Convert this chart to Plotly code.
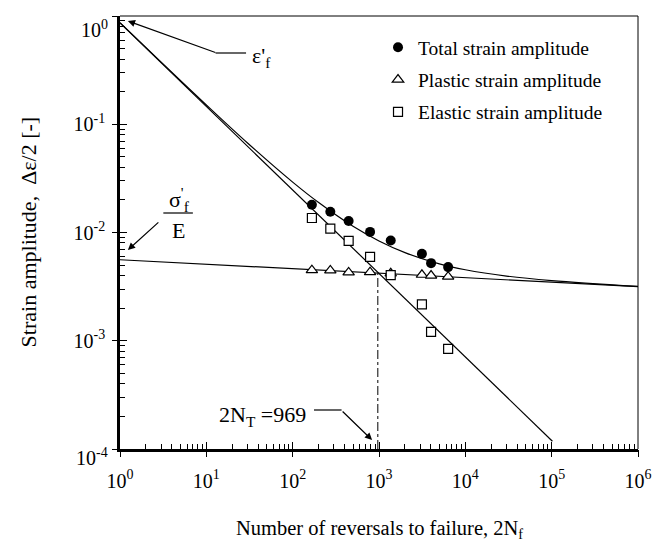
import plotly.graph_objects as go

# ---------------- data ----------------
reversals = [167, 273, 445, 788, 1367, 3141, 4010, 6320]
total_amp = [0.01806, 0.01556, 0.01279, 0.01013, 0.00842, 0.00635, 0.00521, 0.00479]
plastic_amp = [0.00449, 0.00446, 0.00428, 0.00430, 0.00420, 0.00407, 0.00400, 0.00391]
elastic_amp = [0.01362, 0.01086, 0.00837, 0.00596, 0.00404, 0.00217, 0.00121, 0.00084]

# fitted lines (end points)
steep_fit_x = [1, 1.02e5]
steep_fit_y = [0.863, 1.18e-4]
flat_fit_x = [1, 1e6]
flat_fit_y = [0.0056, 0.00316]
# total fit curve
total_fit_x = [1, 3, 10, 30, 100, 200, 500, 1000, 2000, 5000, 1e4, 3e4, 1e5, 1e6]
total_fit_y = [0.869, 0.3745, 0.1507, 0.0671, 0.0292, 0.0189, 0.0114, 0.00835,
               0.00651, 0.00513, 0.00453, 0.00396, 0.0036, 0.00318]

transition_x = [969, 969]
transition_y = [1e-4, 0.0042]

x_tickvals = [1, 10, 100, 1000, 1e4, 1e5, 1e6]
x_ticktext = ["10<sup>0</sup>", "10<sup>1</sup>", "10<sup>2</sup>", "10<sup>3</sup>",
              "10<sup>4</sup>", "10<sup>5</sup>", "10<sup>6</sup>"]
y_tickvals = [1e-4, 1e-3, 1e-2, 1e-1, 1]
y_ticktext = ["10<sup>-4</sup>", "10<sup>-3</sup>", "10<sup>-2</sup>", "10<sup>-1</sup>", "10<sup>0</sup>"]

# ---------------- layout helpers ----------------
W, H = 664, 547
L, R, T, B = 120, 646, 16, 449   # plot area in pixels
FONT = "Liberation Serif"


def px(xp, yp):
    return (xp - L) / (R - L), (B - yp) / (B - T)


x_minor = [m * 10 ** d for d in range(0, 6) for m in range(2, 10)]
y_minor = [m * 10.0 ** d for d in range(-4, 0) for m in range(2, 10)]

fig = go.Figure()

line_style = dict(color="black", width=1.2)
fig.add_trace(go.Scatter(x=total_fit_x, y=total_fit_y, mode="lines", line=dict(shape="spline", **line_style),
                         showlegend=False, hoverinfo="skip"))
fig.add_trace(go.Scatter(x=steep_fit_x, y=steep_fit_y, mode="lines", line=line_style,
                         showlegend=False, hoverinfo="skip"))
fig.add_trace(go.Scatter(x=flat_fit_x, y=flat_fit_y, mode="lines", line=line_style,
                         showlegend=False, hoverinfo="skip"))
fig.add_trace(go.Scatter(x=transition_x, y=transition_y, mode="lines",
                         line=dict(color="black", width=1, dash="dashdot"),
                         showlegend=False, hoverinfo="skip"))

fig.add_trace(go.Scatter(x=reversals, y=total_amp, mode="markers", name="Total strain amplitude",
                         legendgroup="a",
                         marker=dict(symbol="circle", size=10, color="black")))
fig.add_trace(go.Scatter(x=reversals, y=plastic_amp, mode="markers", name="Plastic strain amplitude",
                         legendgroup="b",
                         marker=dict(symbol="triangle-up", size=10, color="white",
                                     line=dict(color="black", width=1.2))))
fig.add_trace(go.Scatter(x=reversals, y=elastic_amp, mode="markers", name="Elastic strain amplitude",
                         legendgroup="c",
                         marker=dict(symbol="square", size=9, color="white",
                                     line=dict(color="black", width=1.2))))
fig.add_trace(go.Scatter(x=[], y=[], xaxis="x2", yaxis="y2", showlegend=False, hoverinfo="skip"))

axis_common = dict(type="log", showgrid=False, zeroline=False, showline=True, linecolor="black",
                   linewidth=2.5, mirror=False, ticks="inside", ticklen=7, tickwidth=1.2,
                   tickcolor="black", tickmode="array",
                   tickfont=dict(family=FONT, size=20, color="black"))

# the two end labels of the y axis are drawn a little lower, as in the reference
y_ticktext_axis = ["" if i in (0, len(y_ticktext) - 1) else t for i, t in enumerate(y_ticktext)]

fig.update_layout(
    width=W, height=H,
    margin=dict(l=L, r=W - R, t=T, b=H - B),
    paper_bgcolor="white", plot_bgcolor="white",
    font=dict(family=FONT, color="black"),
    xaxis=dict(range=[0, 6], tickvals=x_tickvals, ticktext=x_ticktext, ticklabelstandoff=12,
               minor=dict(tickmode="array", tickvals=x_minor, ticks="inside", ticklen=5,
                          tickwidth=1, tickcolor="black", showgrid=False),
               **axis_common),
    yaxis=dict(range=[-4, 0], tickvals=y_tickvals, ticktext=y_ticktext_axis, ticklabelstandoff=8,
               minor=dict(tickmode="array", tickvals=y_minor, ticks="inside", ticklen=5,
                          tickwidth=1, tickcolor="black", showgrid=False),
               **axis_common),
    xaxis2=dict(type="log", range=[0, 6], overlaying="x", anchor="y", side="bottom",
                showgrid=False, zeroline=False, showline=False, ticks="outside", ticklen=7,
                tickwidth=1.2, tickcolor="black", tickmode="array", tickvals=x_tickvals,
                showticklabels=False),
    yaxis2=dict(type="log", range=[-4, 0], overlaying="y", anchor="x", side="left",
                showgrid=False, zeroline=False, showline=False, ticks="outside", ticklen=7,
                tickwidth=1.2, tickcolor="black", tickmode="array", tickvals=y_tickvals,
                showticklabels=False),
    legend=dict(x=px(382, 0)[0], y=px(0, 28)[1], xanchor="left", yanchor="top",
                bgcolor="rgba(0,0,0,0)", borderwidth=0, tracegroupgap=4,
                font=dict(family=FONT, size=19.5, color="black")),
    showlegend=True,
)

shapes = []
# thin top and right frame
shapes.append(dict(type="line", xref="paper", yref="paper", x0=0, y0=1, x1=1, y1=1,
                   line=dict(color="black", width=1)))
shapes.append(dict(type="line", xref="paper", yref="paper", x0=1, y0=0, x1=1, y1=1,
                   line=dict(color="black", width=1)))


def hline(x0p, x1p, yp):
    a = px(x0p, yp)
    b = px(x1p, yp)
    shapes.append(dict(type="line", xref="paper", yref="paper", x0=a[0], y0=a[1], x1=b[0], y1=b[1],
                       line=dict(color="black", width=1.2)))


hline(217, 248, 53)    # epsilon'f leader
hline(164, 194, 213)   # fraction bar
hline(317, 345, 410)   # 2NT leader
fig.update_layout(shapes=shapes)

ann = []


def arrow(tip, tail):
    p = px(*tip)
    ann.append(dict(x=p[0], y=p[1], xref="paper", yref="paper", text="", showarrow=True,
                    ax=tail[0] - tip[0], ay=tail[1] - tip[1], axref="pixel", ayref="pixel",
                    arrowhead=2, arrowsize=1.2, arrowwidth=1.2, arrowcolor="black"))


def label(text, pos, xanchor="center", size=20, angle=0):
    p = px(*pos)
    ann.append(dict(x=p[0], y=p[1], xref="paper", yref="paper", text=text, showarrow=False,
                    xanchor=xanchor, yanchor="middle", textangle=angle,
                    font=dict(family=FONT, size=size, color="black")))


arrow((128, 21), (217, 53))
arrow((128, 250), (160, 221))
arrow((376, 440), (345, 410))
label("ε'<sub>f</sub>", (252, 57), xanchor="left", size=22)
label("σ<sup>'</sup><sub>f</sub>", (180, 199), size=22)
label("E", (179, 230), size=22)
label("2N<sub>T</sub> =969", (265, 416), size=22)
label("Number of reversals to failure, 2N<sub>f</sub>", (383, 529), size=20.5)
label("Strain amplitude,  Δε/2 [-]", (28, 232), angle=-90, size=22)
label(y_ticktext[-1], (110, 29), xanchor="right")
label(y_ticktext[0], (110, 457), xanchor="right")
fig.update_layout(annotations=ann)

fig.write_html("out.html")
